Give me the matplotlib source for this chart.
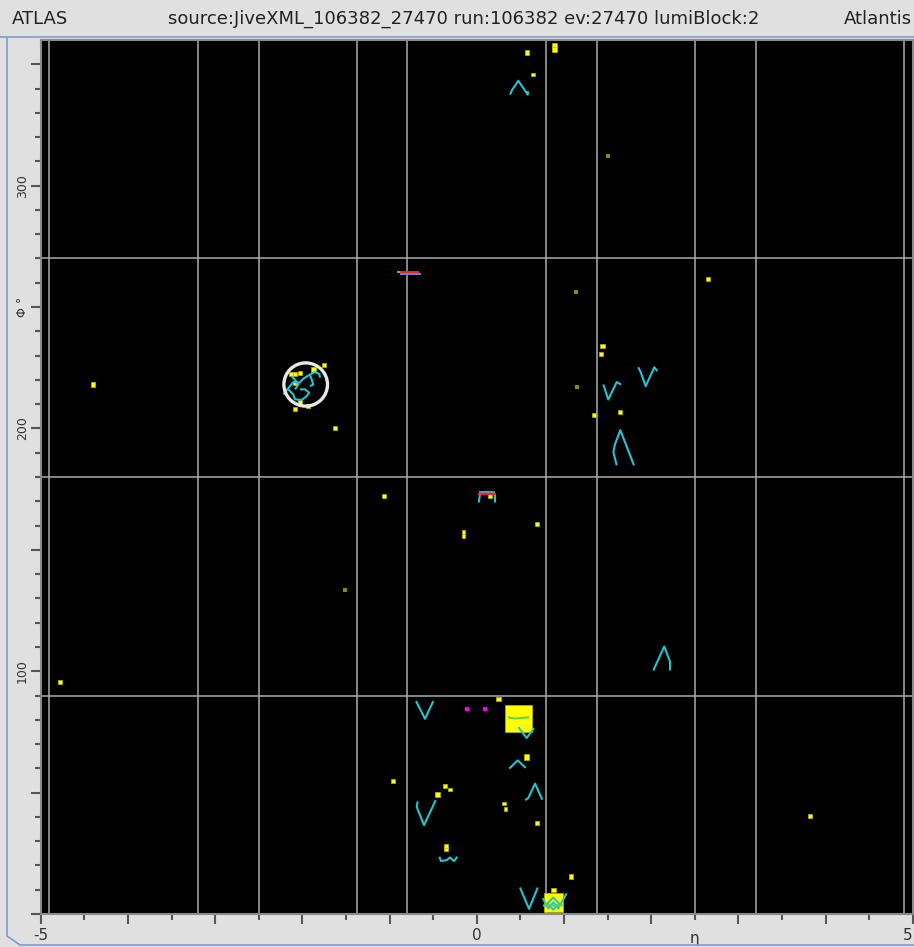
import numpy as np
import matplotlib.pyplot as plt
from matplotlib.patches import Ellipse
from matplotlib.lines import Line2D

# calorimeter cells: eta, phi (deg), energy (GeV, rough)
cell_eta = [0.58, 0.65, 0.89, 0.89, 2.65, 1.44, 1.43, 1.35, 1.64, -4.40, -4.78,
            -1.62, -1.06, 0.15, -0.15, -0.15, 0.69, 0.25, 0.57, -0.96, -0.36,
            -0.31, -0.45, 0.31, 0.33, 0.69, -0.35, -0.35, 1.08, 0.88, 3.82,
            -1.75, -1.87, -2.09, -2.03, -2.13, -2.08, -2.03, -1.93, -2.08,
            0.48, 0.88]
cell_phi = [354.9, 345.8, 357.6, 356.2, 261.6, 233.9, 230.5, 205.7, 206.6, 218.1, 95.6,
            200.0, 172.1, 172.1, 157.3, 155.7, 160.6, 88.5, 64.7, 54.7, 52.6,
            51.3, 49.2, 45.5, 43.3, 37.6, 26.7, 27.9, 15.5, 9.9, 40.2,
            226.1, 224.3, 222.5, 222.8, 222.5, 218.8, 211.0, 209.2, 208.1,
            80.5, 4.8]
cell_e = [0.1, 0.05, 0.3, 0.3, 0.05, 0.15, 0.08, 0.05, 0.08, 0.08, 0.08,
          0.05, 0.04, 0.08, 0.03, 0.03, 0.03, 0.15, 0.3, 0.1, 0.04,
          0.04, 0.1, 0.03, 0.03, 0.03, 0.1, 0.05, 0.1, 0.1, 0.08,
          0.15, 0.3, 0.1, 0.1, 0.08, 0.1, 0.08, 0.08, 0.05,
          36.0, 17.0]

# faint cells
dim_eta = [1.50, 1.14, 1.15, -1.51]
dim_phi = [312.4, 256.3, 217.2, 133.5]

# muon-ish hits
mag_eta = [-0.11, 0.10]
mag_phi = [84.6, 84.6]

# track segments
trk_eta = [
    [0.382, 0.405, 0.477, 0.565, 0.585, 0.588],
    [1.452, 1.509, 1.606, 1.655],
    [1.853, 1.881, 1.938, 2.037, 2.071],
    [1.606, 1.567, 1.586, 1.647, 1.804],
    [2.025, 2.151, 2.217, 2.217],
    [-0.696, -0.593, -0.498],
    [0.477, 0.573, 0.657],
    [0.374, 0.470, 0.562],
    [0.557, 0.592, 0.669, 0.752],
    [-0.677, -0.688, -0.604, -0.470],
    [-0.429, -0.409, -0.344, -0.306, -0.260, -0.222],
    [0.497, 0.600, 0.700],
    [0.757, 0.821, 0.878, 0.936, 1.032],
    [0.810, 0.878, 0.946, 0.878, 0.810],
    [0.023, 0.038, 0.072, 0.122, 0.175, 0.210, 0.210],
    [-0.911, -0.872],
    [-2.218, -2.141, -2.103, -2.034, -1.989, -1.912, -1.855, -1.805, -1.797],
    [-2.161, -2.103, -2.084, -2.007, -1.950, -1.920, -1.969, -2.026],
    [-1.912, -1.893, -1.874, -1.912],
    [-2.122, -2.084, -2.046, -2.084],
]
trk_phi = [
    [337.5, 339.4, 343.2, 338.6, 337.5, 338.9],
    [218.1, 211.9, 219.1, 218.1],
    [225.2, 223.2, 217.4, 225.2, 223.6],
    [184.8, 190.3, 193.5, 199.3, 184.8],
    [100.3, 110.2, 104.0, 100.3],
    [87.7, 80.4, 87.7],
    [77.0, 72.5, 76.6],
    [59.9, 63.3, 60.2],
    [46.9, 47.8, 53.7, 47.1],
    [46.4, 44.1, 36.6, 46.9],
    [23.6, 21.8, 22.2, 23.3, 21.8, 23.6],
    [10.9, 2.1, 10.9],
    [6.5, 2.3, 4.8, 2.3, 8.5],
    [4.3, 6.8, 4.3, 1.8, 4.3],
    [169.5, 173.0, 173.8, 173.9, 173.6, 172.6, 169.5],
    [264.4, 264.4],
    [214.0, 217.4, 219.1, 218.8, 220.5, 222.2, 223.2, 222.5, 220.9],
    [216.1, 214.0, 212.0, 211.7, 213.3, 214.7, 216.1, 216.1],
    [222.2, 220.2, 218.1, 217.4],
    [221.5, 220.1, 218.1, 216.1],
]

# red / blue segments
red_eta = [[-0.872, -0.677], [0.026, 0.210]]
red_phi = [[264.3, 264.3], [172.9, 172.9]]
blue_eta = [[-0.872, -0.650], [0.040, 0.200]]
blue_phi = [[263.7, 263.7], [173.9, 173.9]]
green_eta = [[0.37, 0.43, 0.50, 0.59], [0.77, 0.84, 0.92, 0.99]]
green_phi = [[81.0, 80.5, 80.7, 81.0], [3.5, 3.4, 3.5, 3.6]]

# jet
jet_eta, jet_phi = -1.961, 218.1
jet_deta, jet_dphi = 0.50, 17.8

eta_lines = [-4.9, -3.2, -2.5, -1.375, -0.8, 0.8, 1.375, 2.5, 3.2, 4.9]
phi_lines = [90, 180, 270]

fig = plt.figure(figsize=(9.14, 9.47), dpi=100, facecolor='#e0e0e0')
ax = fig.add_axes([40.7/914, (947-914)/947, 872/914, 874/947])
ax.set_facecolor('black')
ax.set_xlim(-5, 5)
ax.set_ylim(0, 360)

for e in eta_lines:
    ax.axvline(e, color='#ababab', lw=1.1, zorder=1)
for p in phi_lines:
    ax.axhline(p, color='#ababab', lw=1.1, zorder=1)

side = (3 + 4*np.sqrt(np.array(cell_e))) * 0.72
ax.scatter(cell_eta, cell_phi, s=side**2, marker='s', c='#ffff00',
           edgecolors='#b8b800', linewidths=0.5, zorder=3)
ax.scatter(dim_eta, dim_phi, s=6, marker='s', c='#8c8c00', linewidths=0, zorder=3)
ax.scatter(mag_eta, mag_phi, s=9, marker='s', c='#ff00ff', linewidths=0, zorder=3)

for xs, ys in zip(trk_eta, trk_phi):
    ax.plot(xs, ys, color='#27c4d0', lw=1.5, zorder=4, solid_capstyle='butt')
for xs, ys in zip(blue_eta, blue_phi):
    ax.plot(xs, ys, color='#6f86c0', lw=1.4, zorder=4)
for xs, ys in zip(red_eta, red_phi):
    ax.plot(xs, ys, color='#ff2020', lw=1.4, zorder=5)
for xs, ys in zip(green_eta, green_phi):
    ax.plot(xs, ys, color='#60d050', lw=1.4, zorder=5)

ax.add_patch(Ellipse((jet_eta, jet_phi), jet_deta, jet_dphi, fill=False,
                     edgecolor='#e8e8e8', lw=2.4, zorder=6))

# axes ticks
ax.set_xticks(np.arange(-5, 5.1, 1))
ax.set_xticks(np.arange(-4.5, 5, 1), minor=True)
ax.set_yticks(np.arange(0, 360, 50))
ax.set_yticks(np.arange(0, 360, 10), minor=True)
ax.tick_params(which='major', direction='out', length=7, width=1.5, color='#555555',
               labelbottom=False, labelleft=False)
ax.tick_params(which='minor', direction='out', length=4, width=1.5, color='#555555')
for s in ax.spines.values():
    s.set_color('#8a8a8a')
    s.set_linewidth(1.5)

tx = ax.get_xaxis_transform()
ax.text(-5, -0.025, '-5', transform=tx, ha='center', va='center', fontsize=11, color='#333333')
ax.text(0, -0.025, '0', transform=tx, ha='center', va='center', fontsize=11, color='#333333')
ax.text(5, -0.025, '5', transform=tx, ha='right', va='center', fontsize=11, color='#333333')
ax.text(2.5, -0.028, 'η', transform=tx, ha='center', va='center', fontsize=11,
        color='#333333')
ty = ax.get_yaxis_transform()
for v in [100, 200, 300]:
    ax.text(-0.021, v, str(v), transform=ty, ha='center', va='center',
            rotation=90, fontsize=9, color='#333333')
ax.text(-0.021, 250, 'Φ °', transform=ty, ha='center', va='center',
        rotation=90, fontsize=9, color='#333333')

# title bar
fig.text(12/914, 1-19/947, 'ATLAS', ha='left', va='center', fontsize=13, color='#222222')
fig.text(464/914, 1-19/947, 'source:JiveXML_106382_27470 run:106382 ev:27470 lumiBlock:2',
         ha='center', va='center', fontsize=13, color='#222222')
fig.text(912/914, 1-19/947, 'Atlantis', ha='right', va='center', fontsize=13, color='#222222')

# window frame
blue = '#7f9bd0'
fig.add_artist(Line2D([0, 1], [1-37.5/947, 1-37.5/947], color=blue, lw=1.2))
fig.add_artist(Line2D([7/914, 7/914, 20/914, 1], [1-37.5/947, 1-936/947, 1-945/947, 1-945/947],
                      color=blue, lw=1.2))

fig.savefig('out.png', dpi=100, facecolor=fig.get_facecolor())
